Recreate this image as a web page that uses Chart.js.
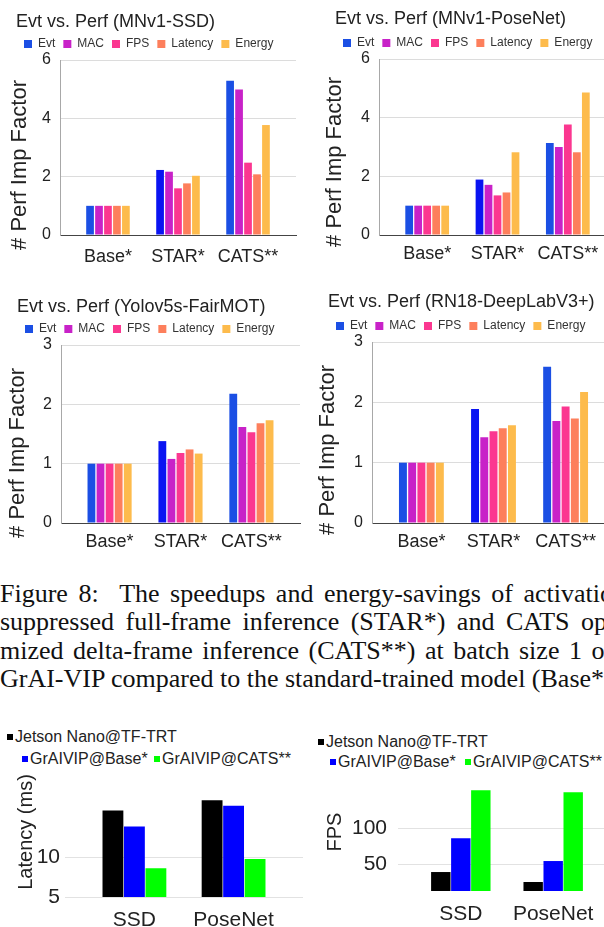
<!DOCTYPE html>
<html>
<head>
<meta charset="utf-8">
<title>Evt vs. Perf</title>
<script src="https://cdn.jsdelivr.net/npm/chart.js@4.4.1/dist/chart.umd.min.js"></script>
<style>
  html, body { margin: 0; padding: 0; background: #fff; }
  body { width: 604px; height: 927px; position: relative; overflow: hidden; font-family: 'Liberation Sans', Arial, sans-serif; }
  canvas { position: absolute; }
  .cap { position: absolute; left: 0; font-family: 'Liberation Serif', 'Times New Roman', serif; font-size: 26px; line-height: 28.3px; white-space: nowrap; color: #111; }
  .lg { position: absolute; font-size: 16px; line-height: 16px; color: #222; white-space: nowrap; }
  .lg i { position: absolute; width: 6px; height: 6px; }
</style>
</head>
<body>
<canvas id="ssd" width="300" height="280" style="left:0;top:0"></canvas>
<canvas id="posenet" width="320" height="280" style="left:300px;top:0"></canvas>
<canvas id="fairmot" width="304" height="290" style="left:0;top:285px"></canvas>
<canvas id="deeplab" width="319" height="290" style="left:300px;top:285px"></canvas>

<div class="cap" style="top:580px;word-spacing:4px">Figure 8:&nbsp; The speedups and energy-savings of activation-</div>
<div class="cap" style="top:608px;word-spacing:5px">suppressed full-frame inference (STAR*) and CATS opti-</div>
<div class="cap" style="top:637px;word-spacing:3px">mized delta-frame inference (CATS**) at batch size 1 on</div>
<div class="cap" style="top:665px">GrAI-VIP compared to the standard-trained model (Base*).</div>

<canvas id="latency" width="310" height="157" style="left:0;top:770px"></canvas>
<canvas id="fps" width="310" height="157" style="left:310px;top:770px"></canvas>
<div id="legendLatency"></div>
<div id="legendFps"></div>

<script>
// 上排四張圖：Perf Imp Factor
const perfCategories = ['Base*', 'STAR*', 'CATS**'];
const perfMetrics = ['Evt', 'MAC', 'FPS', 'Latency', 'Energy'];
const metricColors = ['#1b4fe4', '#c822c8', '#fb3790', '#fd7f5c', '#fdbb4c'];
const evtColors = ['#1b4fe4', '#0a14f2', '#1b4fe4']; // STAR* 的 Evt 柱子顏色較深

// 每列依 perfMetrics 順序，每欄依 perfCategories 順序
const ssdFactors = [
    [1.0, 2.23, 5.29],
    [1.0, 2.17, 4.99],
    [1.0, 1.60, 2.48],
    [1.0, 1.77, 2.08],
    [1.0, 2.03, 3.77]
];
const poseNetFactors = [
    [1.0, 1.89, 3.14],
    [1.0, 1.71, 3.00],
    [1.0, 1.35, 3.77],
    [1.0, 1.45, 2.82],
    [1.0, 2.82, 4.86]
];
const fairMotFactors = [
    [1.0, 1.38, 2.18],
    [1.0, 1.08, 1.62],
    [1.0, 1.18, 1.53],
    [1.0, 1.24, 1.68],
    [1.0, 1.17, 1.73]
];
const deepLabFactors = [
    [1.0, 1.89, 2.59],
    [1.0, 1.42, 1.69],
    [1.0, 1.52, 1.93],
    [1.0, 1.57, 1.73],
    [1.0, 1.62, 2.17]
];
const perfTicksSix = [0, 2, 4, 6];
const perfTicksThree = [0, 1, 2, 3];

// 下排兩張圖：Jetson Nano vs GrAI-VIP
const deviceCategories = ['SSD', 'PoseNet'];
const deviceNames = ['Jetson Nano@TF-TRT', 'GrAIVIP@Base*', 'GrAIVIP@CATS**'];
const deviceColors = ['#000000', '#0000ff', '#00ff00'];
const latencyMs = [
    [15.8, 17.1],
    [13.8, 16.4],
    [8.6, 9.75]
];
const fpsValues = [
    [38.9, 25.0],
    [86.0, 54.2],
    [152.8, 150.0]
];
const latencyTicks = [5, 10];
const fpsTicks = [50, 100];

Chart.defaults.font.family = "'Liberation Sans', Arial, sans-serif";
Chart.defaults.color = '#222';

// 旋轉的 Y 軸標題，畫在指定位置
const sideTitle = {
    id: 'sideTitle',
    afterDraw(chart, args, opts) {
        const ctx = chart.ctx;
        ctx.save();
        ctx.translate(opts.x, opts.y);
        ctx.rotate(-Math.PI / 2);
        ctx.font = opts.size + "px 'Liberation Sans', Arial, sans-serif";
        ctx.fillStyle = '#222';
        ctx.textAlign = 'center';
        ctx.textBaseline = 'middle';
        ctx.fillText(opts.text, 0, 0);
        ctx.restore();
    }
};

function perfChart(id, title, rows, ticks, L) {
    const datasets = perfMetrics.map((m, k) => ({
        label: m,
        data: rows[k].map((v, i) => ({ x: i, y: v })),
        backgroundColor: k === 0 ? evtColors : metricColors[k],
        borderWidth: 0,
        categoryPercentage: 0.64,
        barPercentage: 0.86
    }));
    const last = perfCategories.length - 1;
    return new Chart(document.getElementById(id), {
        type: 'bar',
        data: { datasets },
        options: {
            responsive: false,
            animation: false,
            layout: { padding: { left: L.padLeft, right: L.padRight, top: 0, bottom: 0 } },
            plugins: {
                title: {
                    display: true, text: title, align: 'start', color: '#222',
                    font: { size: 18, weight: 'normal' },
                    padding: { top: L.titleY - 10.8, bottom: L.legendY - 14 - L.titleY - 10.8 }
                },
                legend: {
                    align: 'start',
                    labels: { boxWidth: 8, boxHeight: 8, padding: 8, color: '#333', font: { size: 12 } }
                },
                tooltip: { enabled: false },
                sideTitle: { text: '# Perf Imp Factor', x: L.yTitleX - L.x, y: L.yTitleY - L.y, size: 22 }
            },
            scales: {
                x: {
                    type: 'linear', offset: false,
                    min: -0.685, max: last + 0.685,
                    afterBuildTicks: s => { s.ticks = perfCategories.map((c, i) => ({ value: i })); },
                    afterFit: s => { s.height = L.xHeight; s.paddingLeft = 0; s.paddingRight = 0; },
                    ticks: { callback: v => perfCategories[v], color: '#222', font: { size: 18 }, padding: L.labelPad, maxRotation: 0, autoSkip: false },
                    grid: { display: false, drawTicks: false },
                    border: { display: true, color: '#444' }
                },
                y: {
                    min: ticks[0], max: ticks[ticks.length - 1],
                    afterBuildTicks: s => { s.ticks = ticks.map(v => ({ value: v })); },
                    afterFit: s => { s.width = L.plotLeft - L.x - L.padLeft; s.paddingTop = 0; s.paddingBottom = 0; },
                    ticks: { color: '#222', font: { size: 16 }, padding: 9 },
                    grid: { drawTicks: false, color: c => c.tick && c.tick.value === 0 ? 'rgba(0,0,0,0)' : '#dcdcdc' },
                    border: { display: true, color: '#a8a8a8' }
                }
            }
        },
        plugins: [sideTitle]
    });
}

function deviceChart(id, rows, yMin, yMax, ticks, yTitle, L) {
    const datasets = deviceNames.map((n, k) => ({
        label: n,
        data: rows[k].map((v, i) => ({ x: i, y: v })),
        backgroundColor: deviceColors[k],
        borderWidth: 0,
        categoryPercentage: 0.65,
        barPercentage: 0.97
    }));
    const last = deviceCategories.length - 1;
    return new Chart(document.getElementById(id), {
        type: 'bar',
        data: { datasets },
        options: {
            responsive: false,
            animation: false,
            layout: { padding: { left: 0, right: L.padRight, top: L.padTop, bottom: 0 } },
            plugins: {
                legend: { display: false },
                tooltip: { enabled: false },
                sideTitle: { text: yTitle, x: L.yTitleX - L.x, y: L.yTitleY - L.y, size: 20 }
            },
            scales: {
                x: {
                    type: 'linear', offset: false,
                    min: -L.edge, max: last + L.edge,
                    afterBuildTicks: s => { s.ticks = deviceCategories.map((c, i) => ({ value: i })); },
                    afterFit: s => { s.height = L.xHeight; s.paddingLeft = 0; s.paddingRight = 0; },
                    ticks: { callback: v => deviceCategories[v], color: '#222', font: { size: 21 }, padding: L.labelPad, maxRotation: 0, autoSkip: false },
                    grid: { display: false, drawTicks: false },
                    border: { display: false }
                },
                y: {
                    min: yMin, max: yMax,
                    afterBuildTicks: s => { s.ticks = ticks.map(v => ({ value: v })); },
                    afterFit: s => { s.width = L.plotLeft - L.x; s.paddingTop = 0; s.paddingBottom = 0; },
                    ticks: { color: '#222', font: { size: 21 }, padding: L.tickPad },
                    grid: { drawTicks: false, color: '#e2e2e2' },
                    border: { display: false }
                }
            }
        },
        plugins: [sideTitle]
    });
}

// HTML 圖例（兩列，位置照原圖）
function deviceLegend(id, spots) {
    const host = document.getElementById(id);
    deviceNames.forEach((n, k) => {
        const d = document.createElement('div');
        d.className = 'lg';
        d.style.left = spots[k][0] + 'px';
        d.style.top = (spots[k][1] - 8) + 'px';
        d.innerHTML = '<i style="left:0;top:5px;background:' + deviceColors[k] + '"></i>';
        const t = document.createElement('span');
        t.style.marginLeft = '8px';
        t.textContent = n;
        d.appendChild(t);
        host.appendChild(d);
    });
}

document.addEventListener('DOMContentLoaded', () => {
    perfChart('ssd', 'Evt vs. Perf (MNv1-SSD)', ssdFactors, perfTicksSix,
        { x: 0, y: 0, padLeft: 16, padRight: 4, titleY: 22, legendY: 44, plotLeft: 60, xHeight: 45, labelPad: 11, yTitleX: 20, yTitleY: 165 });
    perfChart('posenet', 'Evt vs. Perf (MNv1-PoseNet)', poseNetFactors, perfTicksSix,
        { x: 300, y: 0, padLeft: 35, padRight: 4, titleY: 19, legendY: 43, plotLeft: 379, xHeight: 45, labelPad: 8, yTitleX: 335, yTitleY: 162 });
    perfChart('fairmot', 'Evt vs. Perf (Yolov5s-FairMOT)', fairMotFactors, perfTicksThree,
        { x: 0, y: 285, padLeft: 17, padRight: 4, titleY: 22, legendY: 44, plotLeft: 61, xHeight: 52, labelPad: 8, yTitleX: 18, yTitleY: 453 });
    perfChart('deeplab', 'Evt vs. Perf (RN18-DeepLabV3+)', deepLabFactors, perfTicksThree,
        { x: 300, y: 285, padLeft: 28, padRight: 4, titleY: 17, legendY: 41, plotLeft: 372, xHeight: 52, labelPad: 8, yTitleX: 328, yTitleY: 450 });

    deviceChart('latency', latencyMs, 5, 20, latencyTicks, 'Latency (ms)',
        { x: 0, y: 770, padTop: 7, padRight: 7, plotLeft: 65, edge: 0.7, xHeight: 30, labelPad: 11, tickPad: 5, yTitleX: 26, yTitleY: 832 });
    deviceChart('fps', fpsValues, 12.5, 160, fpsTicks, 'FPS',
        { x: 310, y: 770, padTop: 15, padRight: 4, plotLeft: 398, edge: 0.68, xHeight: 36, labelPad: 11, tickPad: 11, yTitleX: 335, yTitleY: 832 });

    deviceLegend('legendLatency', [[7, 737], [22, 759], [154, 759]]);
    deviceLegend('legendFps', [[318, 742], [330, 762], [465, 762]]);
});
</script>
</body>
</html>
